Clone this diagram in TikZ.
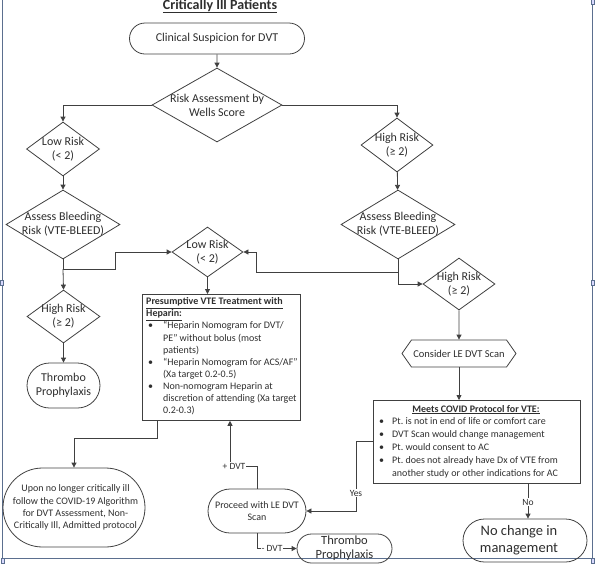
\documentclass[tikz,border=0pt]{standalone}
\usepackage{fontspec}
\setmainfont{Carlito}
\usetikzlibrary{shapes.geometric,shapes.misc,shapes.symbols,arrows.meta,calc}
\definecolor{lc}{HTML}{404040}
\definecolor{tc}{HTML}{2E2E2E}
\definecolor{fr}{HTML}{5B6F8F}
\newcommand{\bul}{\makebox[17pt][l]{\hspace{2pt}\textbullet}}
\newcommand{\ind}{\hspace*{17pt}}
\newcommand{\bulc}{\makebox[16pt][l]{\hspace{3pt}\textbullet}}
\newcommand{\indc}{\hspace*{16pt}}
\frenchspacing
\begin{document}
\begin{tikzpicture}[x=1pt,y=-1pt,
  every node/.style={text=tc, font=\fontsize{12}{14}\selectfont},
  ln/.style={draw=lc, line width=0.8pt},
  arr/.style={ln, -{Triangle[length=5pt,width=5pt]}},
  dia/.style={diamond, ln, inner sep=0pt, fill=white},
  term/.style={rounded rectangle, ln, inner sep=0pt, align=center},
  box/.style={rectangle, ln, inner sep=0pt},
  btxt/.style={anchor=north west, align=left, inner sep=0pt},
  lab/.style={fill=white, inner sep=1pt, font=\fontsize{9.5}{10}\selectfont},
]
\useasboundingbox (0,0) rectangle (595,566);
% frame
\draw[fr, line width=1pt] (2.5,0) -- (2.5,558.5) -- (592.5,558.5) -- (592.5,0);
\foreach \p in {(1.5,283),(593,283),(2.5,561),(592.5,561),(592.5,2)}
  \node[draw=fr, fill=blue!15, minimum width=3pt, minimum height=5pt, inner sep=0pt] at \p {};

\node[font=\bfseries\fontsize{14}{16}\selectfont, anchor=base] (title) at (220,9) {\underline{Critically Ill Patients}};

\node[term, minimum width=175, minimum height=31] (start) at (217,38.5) {Clinical Suspicion for DVT};

\node[dia, minimum width=130, minimum height=74, label={[align=center]center:{Risk Assessment by\\Wells Score}}] (wells) at (217,105) {};
\node[dia, minimum width=73, minimum height=54, label={[align=center]center:{Low Risk\\(< 2)}}] (lowA) at (63,149) {};
\node[dia, minimum width=72, minimum height=54, label={[align=center]center:{High Risk\\(≥ 2)}}] (highA) at (397,145) {};
\node[dia, minimum width=114, minimum height=69, label={[align=center]center:{Assess Bleeding\\Risk (VTE-BLEED)}}] (bleedL) at (63,224.5) {};
\node[dia, minimum width=114, minimum height=69, label={[align=center]center:{Assess Bleeding\\Risk (VTE-BLEED)}}] (bleedR) at (398,224.5) {};
\node[dia, minimum width=71, minimum height=50, label={[align=center]center:{Low Risk\\(< 2)}}] (lowB) at (207.5,252) {};
\node[dia, minimum width=73, minimum height=53, label={[align=center]center:{High Risk\\(≥ 2)}}] (highL) at (63.5,316.5) {};
\node[dia, minimum width=72, minimum height=52, label={[align=center]center:{High Risk\\(≥ 2)}}] (highR) at (459,284) {};

\node[term, minimum width=73, minimum height=45] (thrL) at (63.5,385.5) {Thrombo\\Prophylaxis};

\node[box, anchor=north west, minimum width=158, minimum height=126] (presum) at (142,294) {};
\node[btxt, font=\fontsize{10}{12.1}\selectfont] (presumtxt) at (146,297.5) {%
\textbf{\underline{Presumptive VTE Treatment with}}\\
\textbf{\underline{Heparin:}}\\
\bul “Heparin Nomogram for DVT/\\
\ind PE” without bolus (most\\
\ind patients)\\
\bul “Heparin Nomogram for ACS/AF”\\
\ind (Xa target 0.2-0.5)\\
\bul Non-nomogram Heparin at\\
\ind discretion of attending (Xa target\\
\ind 0.2-0.3)};

\node[signal, signal to=east and west, signal pointer angle=110, ln, inner sep=0pt, minimum width=114, minimum height=27, font=\fontsize{10.5}{12}\selectfont] (consider) at (459,353.5) {Consider LE DVT Scan};

\node[box, anchor=north west, minimum width=207, minimum height=83] (covid) at (373,400) {};
\node[font=\bfseries\fontsize{10}{12}\selectfont, anchor=base] (covidtitle) at (476,412) {\underline{Meets COVID Protocol for VTE:}};
\node[btxt, font=\fontsize{10}{13.2}\selectfont] (covidtxt) at (376,417) {%
\bulc Pt. is not in end of life or comfort care\\
\bulc DVT Scan would change management\\
\bulc Pt. would consent to AC\\
\bulc Pt. does not already have Dx of VTE from\\
\indc another study or other indications for AC};

\node[term, minimum width=142, minimum height=79, label={[align=center, xshift=1.5pt, font=\fontsize{10}{12.2}\selectfont]center:{Upon no longer critically ill\\follow the COVID-19 Algorithm\\for DVT Assessment, Non-\\Critically Ill, Admitted protocol}}] (upon) at (74,507.5) {};
\node[term, minimum width=98, minimum height=44, font=\fontsize{10}{12}\selectfont] (proceed) at (257,511) {Proceed with LE DVT\\Scan};
\node[term, minimum width=95, minimum height=29, font=\fontsize{12.5}{14}\selectfont] (thrB) at (344.5,548.5) {Thrombo\\Prophylaxis};
\node[term, minimum width=124, minimum height=43, label={[align=center, xshift=-6pt, font=\fontsize{14.5}{17}\selectfont]center:{No change in\\management}}] (nochange) at (525,540.5) {};

% connectors
\draw[arr] (start) -- (wells);
\draw[arr] (wells.west) -| (lowA.north);
\draw[arr] (wells.east) -| (highA.north);
\draw[arr] (lowA) -- (bleedL);
\draw[arr] (highA) -- (bleedR);
\coordinate (jL) at (63,269);
\coordinate (jR) at (398,272);
\draw[ln] (bleedL.south) -- (jL);
\draw[arr] (jL) -- (highL.north);
\draw[arr] (jL) -- (115,269) |- (lowB.west);
\draw[ln] (bleedR.south) -- (jR);
\draw[arr] (jR) -- (256,272) |- (lowB.east);
\draw[arr] (jR) |- (highR.west);
\draw[arr] (highL) -- (thrL);
\draw[arr] (lowB.south) -- (lowB.south |- presum.north);
\draw[arr] (highR) -- (consider);
\draw[arr] (consider.south) -- (consider.south |- covid.north);
\draw[arr] (presum.south -| 157,0) -- (157,438) -| (upon.north);
\draw[arr] (covid.west |- 0,441) -- (356,441) |- (proceed.east);
\node[lab] (yes) at (356,493) {Yes};
\draw[arr] (proceed.north) -- (257,466) -- (230,466) -- (presum.south -| 230,0);
\node[lab] (pdvt) at (234,466) {+ DVT};
\draw[arr] (proceed.south) -- (257,548.5) -- (thrB.west);
\node[lab] (mdvt) at (272,548.5) {- DVT};
\draw[arr] (covid.south -| 528,0) -- (528,0 |- nochange.north);
\node[lab] (no) at (528,502) {No};
\end{tikzpicture}
\end{document}
